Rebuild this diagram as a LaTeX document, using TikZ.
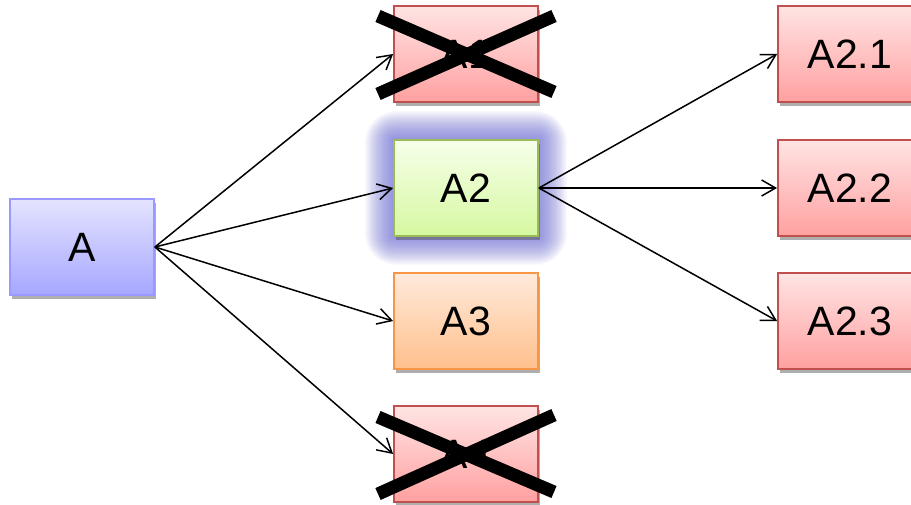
\documentclass[tikz,border=0pt]{standalone}
\usepackage{fontspec}
\setmainfont{Liberation Sans}
\usetikzlibrary{arrows.meta,shadows,calc}
\definecolor{bA}{HTML}{9999FF}
\definecolor{tA}{HTML}{E4E4FF}
\definecolor{uA}{HTML}{A6A6FF}
\definecolor{bR}{HTML}{C0504D}
\definecolor{tR}{HTML}{FFE4E4}
\definecolor{uR}{HTML}{FFA0A0}
\definecolor{bG}{HTML}{9BBB59}
\definecolor{tG}{HTML}{F6FFEA}
\definecolor{uG}{HTML}{D6F8A0}
\definecolor{bO}{HTML}{F79646}
\definecolor{tO}{HTML}{FFEADC}
\definecolor{uO}{HTML}{FFC08C}
\definecolor{glowc}{HTML}{6A6AD6}
\tikzset{
  box/.style={draw, line width=1.8pt, minimum width=144pt, minimum height=96pt,
    inner sep=0pt, font=\fontsize{41}{44}\selectfont,
    drop shadow={shadow xshift=2pt, shadow yshift=-4pt, opacity=0.45, fill=black!70}},
  boxA/.style={box, draw=bA, top color=tA, bottom color=uA},
  boxR/.style={box, draw=bR, top color=tR, bottom color=uR},
  boxG/.style={box, draw=bG, top color=tG, bottom color=uG},
  boxO/.style={box, draw=bO, top color=tO, bottom color=uO},
  link/.style={-{Straight Barb[length=14pt,width=16pt,line width=1.5pt]}, line width=1.5pt, black},
  crossline/.style={line width=13pt, black}
}
\begin{document}
\begin{tikzpicture}[x=1pt,y=-1pt]
\useasboundingbox (0,0) rectangle (911,505);
\fill[white] (0,0) rectangle (911,505);
% glow behind A2
\foreach \i in {1,...,24}{
  \fill[glowc, opacity=0.045, rounded corners=1.3*\i pt] (394-1.2*\i,140-1.2*\i) rectangle (538+1.2*\i,236+1.2*\i);
}
\node[boxA] (a) at (82,247) {A};
\node[boxR] (a1) at (466,54) {A1};
\node[boxG] (a2) at (466,188) {A2};
\node[boxO] (a3) at (466,321) {A3};
\node[boxR] (a4) at (466,454) {A4};
\node[boxR] (a21) at (850,54) {A2.1};
\node[boxR] (a22) at (850,188) {A2.2};
\node[boxR] (a23) at (850,321) {A2.3};
\draw[link] (a.east) -- (a1.west);
\draw[link] (a.east) -- (a2.west);
\draw[link] (a.east) -- (a3.west);
\draw[link] (a.east) -- (a4.west);
\draw[link] (a2.east) -- (a21.west);
\draw[link] (a2.east) -- (a22.west);
\draw[link] (a2.east) -- (a23.west);
% crosses
\draw[crossline] ($(a1.center)+(-88,-38)$) -- ($(a1.center)+(88,38)$);
\draw[crossline] ($(a1.center)+(-88,40)$) -- ($(a1.center)+(88,-38)$);
\draw[crossline] ($(a4.center)+(-88,-37)$) -- ($(a4.center)+(88,38)$);
\draw[crossline] ($(a4.center)+(-88,40)$) -- ($(a4.center)+(88,-39)$);
\end{tikzpicture}
\end{document}
